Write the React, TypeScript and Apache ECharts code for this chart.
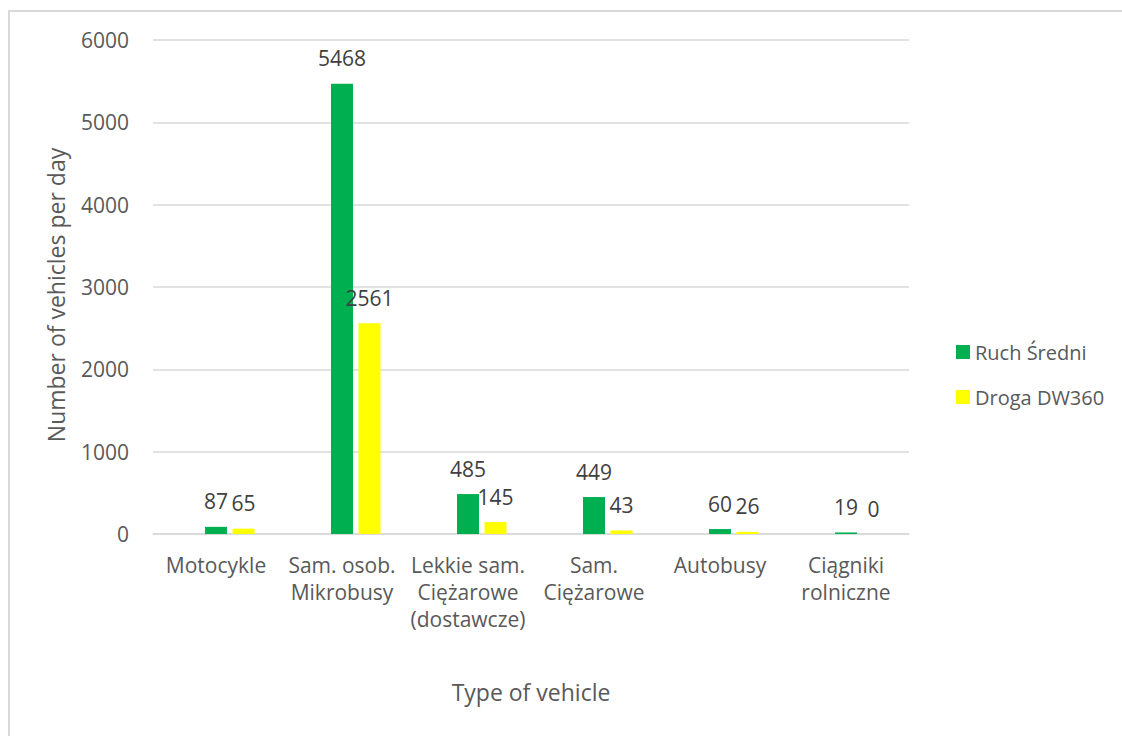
import React, { useEffect, useRef } from "react";
import * as echarts from "echarts";

const categories = [
  "Motocykle",
  "Sam. osob.\nMikrobusy",
  "Lekkie sam.\nCiężarowe\n(dostawcze)",
  "Sam.\nCiężarowe",
  "Autobusy",
  "Ciągniki\nrolniczne",
];
const ruchSredni = [87, 5468, 485, 449, 60, 19];
const drogaDW360 = [65, 2561, 145, 43, 26, 0];
// empty placeholder series (present in the source chart, holds no values)
const emptySeries = [null, null, null, null, null, null];
const yTicks = { min: 0, max: 6000, interval: 1000 };

const FONT = "'Open Sans', 'Noto Sans', sans-serif";

export default function App() {
  const ref = useRef<HTMLDivElement>(null);
  useEffect(() => {
    document.body.style.margin = "0";
    if (!ref.current) return;
    const chart = echarts.init(ref.current, null, { renderer: "svg" });
    const labelStyle = {
      show: true,
      position: "top",
      distance: 15,
      fontSize: 21,
      fontFamily: FONT,
      color: "#404040",
    };
    chart.setOption({
      animation: false,
      backgroundColor: "#ffffff",
      textStyle: { fontFamily: FONT },
      grid: { left: 153, right: 213, top: 40, bottom: 202, containLabel: false },
      legend: {
        data: ["Ruch Średni", "Droga DW360"],
        orient: "vertical",
        left: 951,
        top: 337,
        itemWidth: 14,
        itemHeight: 14,
        itemGap: 25,
        icon: "rect",
        textStyle: {
          fontSize: 20,
          lineHeight: 20,
          color: "#595959",
          fontFamily: FONT,
        },
      },
      xAxis: {
        type: "category",
        data: categories,
        axisTick: { show: false },
        axisLine: { lineStyle: { color: "#D9D9D9", width: 1.5 } },
        axisLabel: {
          interval: 0,
          fontSize: 21,
          lineHeight: 27,
          margin: 17,
          color: "#595959",
          fontFamily: FONT,
        },
      },
      yAxis: {
        type: "value",
        min: yTicks.min,
        max: yTicks.max,
        interval: yTicks.interval,
        axisLine: { show: false },
        axisTick: { show: false },
        splitLine: { lineStyle: { color: "#D9D9D9", width: 1.5 } },
        axisLabel: {
          fontSize: 21,
          margin: 24,
          color: "#595959",
          fontFamily: FONT,
          formatter: (v: number) => String(v),
        },
      },
      graphic: [
        {
          type: "rect",
          shape: { x: 9, y: 11, width: 1300, height: 900 },
          style: { fill: "none", stroke: "#D9D9D9", lineWidth: 2 },
          silent: true,
          z: -1,
        },
        {
          type: "text",
          x: 56,
          y: 295,
          rotation: Math.PI / 2,
          style: {
            text: "Number of vehicles per day",
            fontSize: 23,
            fontFamily: FONT,
            fill: "#595959",
            align: "center",
            verticalAlign: "middle",
          },
        },
        {
          type: "text",
          x: 531,
          y: 692,
          style: {
            text: "Type of vehicle",
            fontSize: 23,
            fontFamily: FONT,
            fill: "#595959",
            align: "center",
            verticalAlign: "middle",
          },
        },
      ],
      series: [
        {
          name: "",
          type: "bar",
          data: emptySeries,
          barWidth: 22,
          barGap: "25%",
          itemStyle: { color: "transparent" },
        },
        {
          name: "Ruch Średni",
          type: "bar",
          data: ruchSredni,
          barWidth: 22,
          barGap: "25%",
          itemStyle: { color: "#00B050" },
          label: labelStyle,
        },
        {
          name: "Droga DW360",
          type: "bar",
          data: drogaDW360,
          barWidth: 22,
          barGap: "25%",
          itemStyle: { color: "#FFFF00" },
          label: labelStyle,
        },
      ],
    });
    return () => chart.dispose();
  }, []);
  return <div ref={ref} style={{ width: 1122, height: 736 }} />;
}
